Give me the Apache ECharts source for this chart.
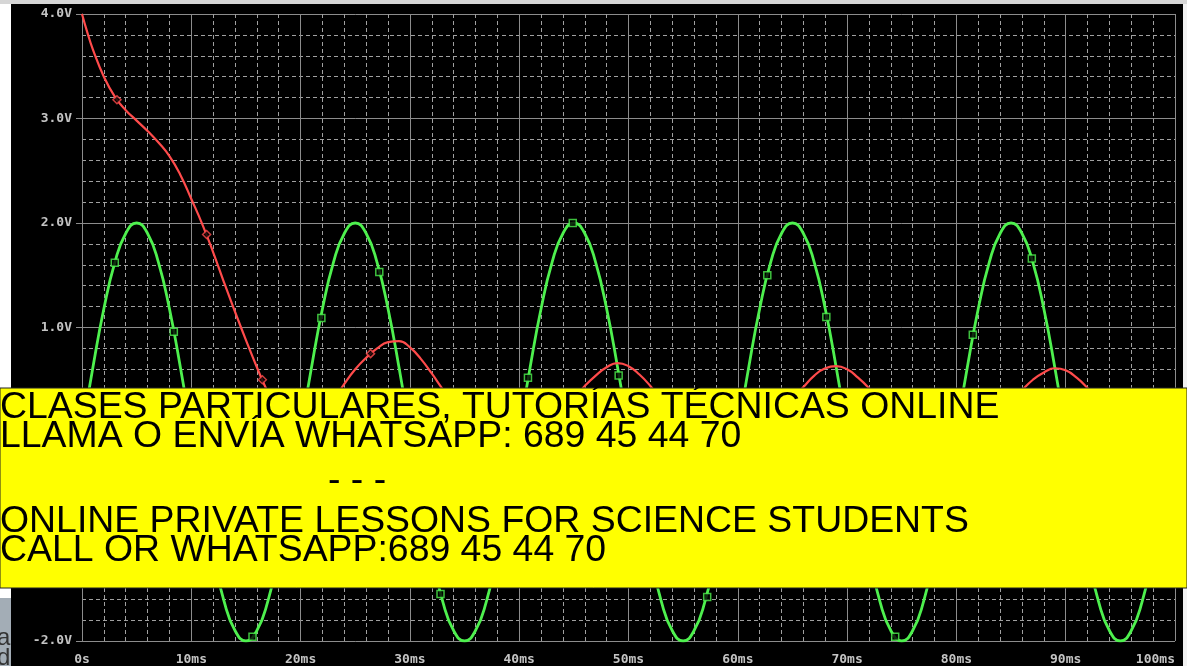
<!DOCTYPE html>
<html>
<head>
<meta charset="utf-8">
<script src="https://cdn.jsdelivr.net/npm/echarts@6/dist/echarts.min.js"></script>
<style>
html,body{margin:0;padding:0;background:#000;}
#c{width:1187px;height:666px;}
</style>
</head>
<body>
<div id="c"></div>
<script>
// ---- data ----
var xTickLabels = ['0s','10ms','20ms','30ms','40ms','50ms','60ms','70ms','80ms','90ms','100ms'];
var yTickLabels = ['-2.0V','-1.0V','0V','1.0V','2.0V','3.0V','4.0V'];

var greenT = [0,1,2,3,4,5,6,7,8,9,10,11,12,13,14,15,16,17,18,19,
  20,21,22,23,24,25,26,27,28,29,30,31,32,33,34,35,36,37,38,39,
  40,41,42,43,44,45,46,47,48,49,50,51,52,53,54,55,56,57,58,59,
  60,61,62,63,64,65,66,67,68,69,70,71,72,73,74,75,76,77,78,79,
  80,81,82,83,84,85,86,87,88,89,90,91,92,93,94,95,96,97,98,99,100];
var greenV = [0,0.62,1.18,1.62,1.9,2,1.9,1.62,1.18,0.62,0,-0.62,-1.18,-1.62,-1.9,-2,-1.9,-1.62,-1.18,-0.62,
  0,0.62,1.18,1.62,1.9,2,1.9,1.62,1.18,0.62,0,-0.62,-1.18,-1.62,-1.9,-2,-1.9,-1.62,-1.18,-0.62,
  0,0.62,1.18,1.62,1.9,2,1.9,1.62,1.18,0.62,0,-0.62,-1.18,-1.62,-1.9,-2,-1.9,-1.62,-1.18,-0.62,
  0,0.62,1.18,1.62,1.9,2,1.9,1.62,1.18,0.62,0,-0.62,-1.18,-1.62,-1.9,-2,-1.9,-1.62,-1.18,-0.62,
  0,0.62,1.18,1.62,1.9,2,1.9,1.62,1.18,0.62,0,-0.62,-1.18,-1.62,-1.9,-2,-1.9,-1.62,-1.18,-0.62,0];

var redT = [0,0.5,1,2,3,4,5,6,7,8,9,10,11,12,13,14,15,16,17,18,19,20,21,22,23,24,25,26,27,28,29,30,31,32,33,34,35,37,40,
  43,44,45,46,47,48,49,50,51,52,53,54,56,60,
  63,64,65,66,67,68,69,70,71,72,73,74,76,80,
  83,84,85,86,87,88,89,90,91,92,93,94,96,100];
var redV = [4.0,3.82,3.66,3.4,3.21,3.08,2.98,2.88,2.77,2.64,2.46,2.23,1.99,1.72,1.43,1.15,0.88,0.62,0.38,0.18,0.06,0.02,0.06,0.16,0.3,0.46,0.6,0.71,0.8,0.86,0.87,0.81,0.7,0.56,0.41,0.27,0.15,0.05,0.02,
  0.1,0.2,0.32,0.44,0.54,0.62,0.66,0.63,0.55,0.44,0.31,0.19,0.06,0.02,
  0.1,0.2,0.32,0.43,0.54,0.61,0.63,0.6,0.52,0.42,0.3,0.18,0.06,0.02,
  0.1,0.2,0.3,0.4,0.5,0.57,0.61,0.59,0.52,0.42,0.3,0.18,0.06,0.02];

var greenMarkT = [3.0,8.4,15.6,21.9,27.2,32.8,40.8,44.9,49.1,57.2,62.7,68.1,74.4,81.5,86.9];
var greenMarkV = [1.62,0.96,-1.96,1.09,1.53,-1.55,0.52,2.0,0.54,-1.58,1.5,1.1,-1.96,0.93,1.66];
var redMarkT = [3.2,11.4,16.5,26.4];
var redMarkV = [3.18,1.89,0.5,0.75];

var bannerLines = [
  'CLASES PARTICULARES, TUTORÍAS TÉCNICAS ONLINE',
  'LLAMA O ENVÍA WHATSAPP: 689 45 44 70',
  '- - -',
  'ONLINE PRIVATE LESSONS FOR SCIENCE STUDENTS',
  'CALL OR WHATSAPP:689 45 44 70'
];

function pairs(t, v){ return v.map(function(val,i){ return [t[i], val]; }); }

var chart = echarts.init(document.getElementById('c'), null, {renderer:'canvas'});
var major = '#8c8c8c', minor = '#a0a0a0', lab = '#c4c4c4';
var monoFont = 'DejaVu Sans Mono';
var bannerFont = '37.4px "Liberation Sans"';

var option = {
  backgroundColor: '#000',
  animation: false,
  grid: {left: 82, right: 12, top: 14, bottom: 24, containLabel: false},
  xAxis: {
    type: 'value', min: 0, max: 100, interval: 10,
    axisLine: {show: true, lineStyle: {color: major, width: 1}},
    axisTick: {show: false},
    axisLabel: {color: lab, fontFamily: monoFont, fontSize: 13, fontWeight: 'bold', margin: 12,
      alignMaxLabel: 'right',
      formatter: function(v){ return xTickLabels[Math.round(v/10)]; }},
    splitLine: {show: true, lineStyle: {color: major, width: 1}},
    minorTick: {show: false, splitNumber: 5},
    minorSplitLine: {show: true, lineStyle: {color: minor, width: 1, type: [4,3]}}
  },
  yAxis: {
    type: 'value', min: -2, max: 4, interval: 1,
    axisLine: {show: true, lineStyle: {color: major, width: 1}},
    axisTick: {show: true, length: 6, lineStyle: {color: major}},
    axisLabel: {color: lab, fontFamily: monoFont, fontSize: 13, fontWeight: 'bold', margin: 10,
      formatter: function(v){ return yTickLabels[Math.round(v + 2)]; }},
    splitLine: {show: true, lineStyle: {color: major, width: 1}},
    minorTick: {show: false, splitNumber: 5},
    minorSplitLine: {show: true, lineStyle: {color: minor, width: 1, type: [4,3]}}
  },
  series: [
    {type: 'line', data: pairs(greenT, greenV), smooth: 0.5, showSymbol: false,
      lineStyle: {color: '#4ef04e', width: 2.8}, z: 3},
    {type: 'line', data: pairs(redT, redV), smooth: 0.5, showSymbol: false,
      lineStyle: {color: '#ff4b4b', width: 2.2}, z: 4},
    {type: 'scatter', data: pairs(greenMarkT, greenMarkV), symbol: 'rect', symbolSize: 7,
      itemStyle: {color: '#000', borderColor: '#4ef04e', borderWidth: 1.5}, z: 5},
    {type: 'scatter', data: pairs(redMarkT, redMarkV), symbol: 'diamond', symbolSize: 8,
      itemStyle: {color: '#000', borderColor: '#ff4b4b', borderWidth: 1.5}, z: 6}
  ],
  graphic: [
    {type: 'rect', z: 100, shape: {x: 0, y: 0, width: 1187, height: 4}, style: {fill: '#d6d6d6'}},
    {type: 'rect', z: 100, shape: {x: 0, y: 4, width: 11, height: 594}, style: {fill: '#ffffff'}},
    {type: 'rect', z: 100, shape: {x: 1183, y: 4, width: 4, height: 662}, style: {fill: '#f2f2f2'}},
    {type: 'rect', z: 100, shape: {x: 0, y: 598, width: 11, height: 68}, style: {fill: '#a3adb6'}},
    {type: 'text', z: 101, left: -3, top: 626, style: {text: 'a', fill: '#333', font: '24px "Liberation Sans"'}},
    {type: 'text', z: 101, left: -3, top: 646, style: {text: 'd', fill: '#333', font: '24px "Liberation Sans"'}},
    {type: 'rect', z: 100, shape: {x: 0, y: 388, width: 1187, height: 200},
      style: {fill: '#ffff00', stroke: '#222', lineWidth: 1}},
    {type: 'text', z: 101, x: 0, y: 389, style: {text: bannerLines[0], fill: '#000', font: bannerFont}},
    {type: 'text', z: 101, x: 0, y: 418, style: {text: bannerLines[1], fill: '#000', font: bannerFont}},
    {type: 'text', z: 101, x: 328, y: 462, style: {text: bannerLines[2], fill: '#000', font: bannerFont}},
    {type: 'text', z: 101, x: 0, y: 503, style: {text: bannerLines[3], fill: '#000', font: bannerFont}},
    {type: 'text', z: 101, x: 0, y: 532, style: {text: bannerLines[4], fill: '#000', font: bannerFont}}
  ]
};
chart.setOption(option);
</script>
</body>
</html>
